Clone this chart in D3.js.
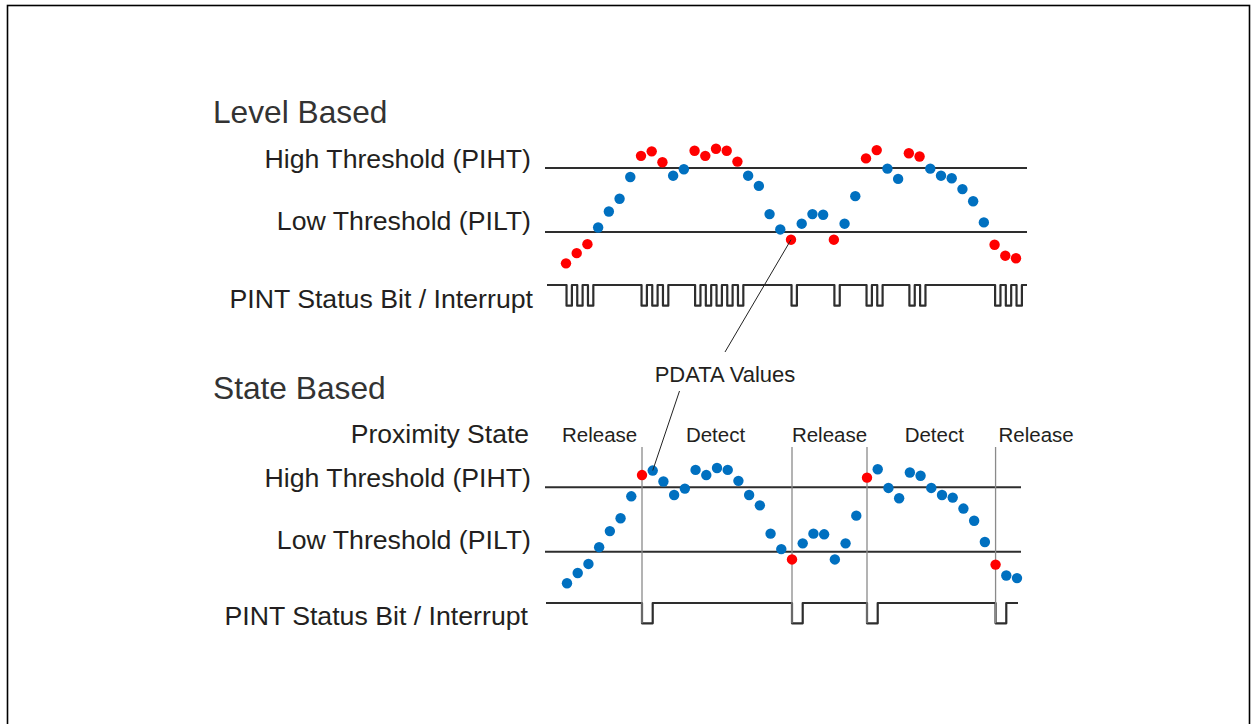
<!DOCTYPE html>
<html>
<head>
<meta charset="utf-8">
<script src="https://cdn.jsdelivr.net/npm/d3@7"></script>
<style>
  body { margin: 0; background: #fff; }
  text { font-family: "Liberation Sans", Arial, sans-serif; fill: #231f20; }
</style>
</head>
<body>
<div id="chart"></div>
<script>
// PDATA samples (same sequence used for both panels)
const pdata = [51, 67, 81, 107, 132, 152, 186, 219, 226, 209, 188, 198, 227, 219, 230,
  227, 210, 188, 172, 128, 104, 88, 113, 128, 127, 88, 113, 156, 215, 228, 199, 183,
  223, 218, 199, 188, 184, 167, 148, 115, 80, 63, 59];
const highThreshold = 200;
const lowThreshold = 100;
const stateNames = ["Release", "Detect"];
const rowLabels = ["High Threshold (PIHT)", "Low Threshold (PILT)", "PINT Status Bit / Interrupt"];

const RED = "#ff0000", BLUE = "#0070c0", INK = "#2e2e2e";
const width = 1251, height = 724;

const svg = d3.select("#chart").append("svg")
  .attr("width", width)
  .attr("height", height);

// frame
svg.append("rect")
  .attr("x", 7.5).attr("y", 5.5)
  .attr("width", 1242).attr("height", 740)
  .attr("fill", "none").attr("stroke", "#000").attr("stroke-width", 1.6);

const idx = d3.range(pdata.length);

// level based: out of range samples are red and each one gives a pulse
const levelHit = pdata.map((v) => v > highThreshold || v < lowThreshold);

// state based: only transitions are red
const stateHit = [];
let st = 0;
pdata.forEach((v) => {
  let hit = false;
  if (st === 0 && v > highThreshold) { st = 1; hit = true; }
  else if (st === 1 && v < lowThreshold) { st = 0; hit = true; }
  stateHit.push(hit);
});
const transitions = idx.filter((i) => stateHit[i]);

function panel(opts) {
  const g = svg.append("g");
  const x = d3.scaleLinear().domain([0, pdata.length - 1]).range(opts.xRange);
  const y = d3.scaleLinear().domain([lowThreshold, highThreshold]).range(opts.yRange);
  const sy = d3.scaleLinear().domain([0, 1]).range(opts.sigRange);

  g.append("text")
    .attr("x", 213).attr("y", opts.titleY)
    .style("font-size", "31.7px").style("fill", "#333")
    .text(opts.title);

  const labelY = [y(highThreshold) - 0.5, y(lowThreshold) - 2.5, sy(0) + 2];
  rowLabels.forEach((t, k) => {
    g.append("text")
      .attr("x", opts.labelRight[k]).attr("y", labelY[k])
      .attr("text-anchor", "end")
      .style("font-size", "26.7px")
      .text(t);
  });

  // threshold lines
  [highThreshold, lowThreshold].forEach((v) => {
    g.append("line")
      .attr("x1", 545).attr("x2", opts.lineEnd)
      .attr("y1", y(v)).attr("y2", y(v))
      .attr("stroke", INK).attr("stroke-width", 2);
  });

  // interrupt signal
  const pts = [[opts.sigStart, 1]];
  opts.pulses.forEach((i) => {
    const a = x(i + opts.pulseOff), b = x(i + opts.pulseOff + opts.pulseLen);
    pts.push([a, 1], [a, 0], [b, 0], [b, 1]);
  });
  pts.push([opts.sigEnd, 1]);
  g.append("path")
    .datum(pts)
    .attr("fill", "none").attr("stroke", INK).attr("stroke-width", 2.2)
    .attr("stroke-linejoin", "round")
    .attr("d", d3.line().x((d) => d[0]).y((d) => sy(d[1])));

  if (opts.extra) opts.extra(g, x, y, sy);

  g.selectAll("circle")
    .data(idx)
    .join("circle")
    .attr("cx", (i) => x(i))
    .attr("cy", (i) => y(pdata[i]))
    .attr("r", 5.2)
    .attr("fill", (i) => (opts.hit[i] ? RED : BLUE));

  return { x, y };
}

const levelPanel = panel({
  title: "Level Based", titleY: 123,
  xRange: [566, 1016], yRange: [232, 168], sigRange: [305.7, 285],
  labelRight: [531, 531, 533],
  lineEnd: 1027, sigStart: 547, sigEnd: 1027,
  pulses: idx.filter((i) => levelHit[i]), pulseOff: 0.05, pulseLen: 0.5,
  hit: levelHit,
});

const statePanel = panel({
  title: "State Based", titleY: 399,
  xRange: [567, 1017], yRange: [551.7, 487.3], sigRange: [623.3, 603],
  labelRight: [531, 531, 528],
  lineEnd: 1021, sigStart: 546, sigEnd: 1018,
  pulses: transitions, pulseOff: 0, pulseLen: 1,
  hit: stateHit,
  extra: (g, x, y, sy) => {
    g.append("text")
      .attr("x", 529).attr("y", 443)
      .attr("text-anchor", "end")
      .style("font-size", "26.5px")
      .text("Proximity State");

    transitions.forEach((i) => {
      g.append("line")
        .attr("x1", x(i)).attr("x2", x(i))
        .attr("y1", 447).attr("y2", sy(0))
        .attr("stroke", "#8a8a8a").attr("stroke-width", 1.3);
    });

    // state name per segment
    const bounds = [-0.9].concat(transitions);
    const nudge = [0, -1.5, 0, 3, 0];
    bounds.forEach((b, k) => {
      const isLast = k === bounds.length - 1;
      const cx = isLast ? x(b) + 3 : (x(b) + x(bounds[k + 1])) / 2 + nudge[k];
      g.append("text")
        .attr("x", cx).attr("y", 442)
        .attr("text-anchor", isLast ? "start" : "middle")
        .style("font-size", "20.5px")
        .text(stateNames[k % 2]);
    });
  },
});

// PDATA callout
svg.append("text")
  .attr("x", 725).attr("y", 382)
  .attr("text-anchor", "middle")
  .style("font-size", "22px")
  .text("PDATA Values");

svg.append("line")
  .attr("x1", 725).attr("y1", 352)
  .attr("x2", levelPanel.x(21)).attr("y2", levelPanel.y(pdata[21]))
  .attr("stroke", "#222").attr("stroke-width", 1);
svg.append("line")
  .attr("x1", 679.5).attr("y1", 391)
  .attr("x2", statePanel.x(8)).attr("y2", statePanel.y(pdata[8]))
  .attr("stroke", "#222").attr("stroke-width", 1);
</script>
</body>
</html>
